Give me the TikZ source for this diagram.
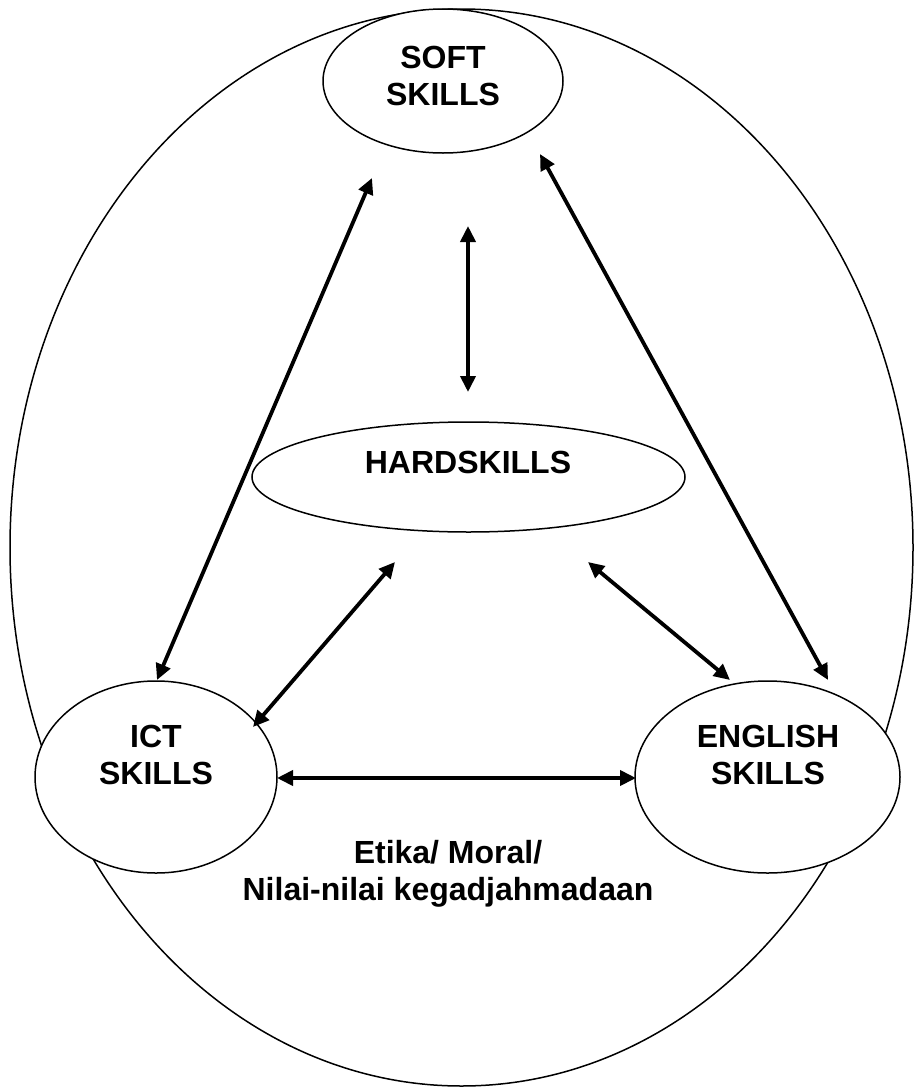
\documentclass[tikz,border=0pt]{standalone}
\usepackage{fontspec}
\setmainfont{Liberation Sans}
\usetikzlibrary{arrows.meta,shapes.geometric}
\begin{document}
\begin{tikzpicture}[x=1pt,y=-1pt,
  skill/.style={draw=black,line width=1.5pt,fill=white,ellipse,inner sep=0pt},
  lbl/.style={font=\fontsize{32}{37}\selectfont\bfseries,align=center,inner sep=0pt},
  link/.style={line width=3.8pt,{Triangle[length=16pt,width=15pt]}-{Triangle[length=16pt,width=15pt]}}]
\useasboundingbox (0,0) rectangle (915,1087);
\fill[white] (0,0) rectangle (915,1087);
% outer ellipse
\node[draw=black,line width=1.5pt,ellipse,inner sep=0pt,minimum width=903pt,minimum height=1077pt] (outer) at (461.5,547.5) {};
% skill ellipses
\node[skill,minimum width=240pt,minimum height=144pt] (soft) at (443,81) {};
\node[skill,minimum width=433pt,minimum height=110pt] (hard) at (468.5,477) {};
\node[skill,minimum width=242pt,minimum height=192pt] (ict) at (156,777) {};
\node[skill,minimum width=265pt,minimum height=192pt] (eng) at (767.5,777) {};
% labels
\node[lbl] (softt) at (443,76) {SOFT\\SKILLS};
\node[lbl] (hardt) at (468,462) {HARDSKILLS};
\node[lbl] (ictt) at (156,755) {ICT\\SKILLS};
\node[lbl] (engt) at (768,755) {ENGLISH\\SKILLS};
\node[lbl] (etika) at (448,874) {Etika/ Moral/\\Nilai-nilai kegadjahmadaan};
% arrow endpoints
\coordinate (s1) at (372,178);
\coordinate (i1) at (157,680);
\coordinate (s2) at (540,154);
\coordinate (e1) at (828,680);
\coordinate (s3) at (468,226);
\coordinate (h1) at (468,392);
\coordinate (h2) at (395,562);
\coordinate (i2) at (253,727);
\coordinate (h3) at (588,562);
\coordinate (e2) at (730,680);
\coordinate (i3) at (277,778);
\coordinate (e3) at (636,778);
% connectors
\draw[link] (s1) -- (i1);
\draw[link] (s2) -- (e1);
\draw[link] (s3) -- (h1);
\draw[link] (h2) -- (i2);
\draw[link] (h3) -- (e2);
\draw[link] (i3) -- (e3);
\end{tikzpicture}
\end{document}
